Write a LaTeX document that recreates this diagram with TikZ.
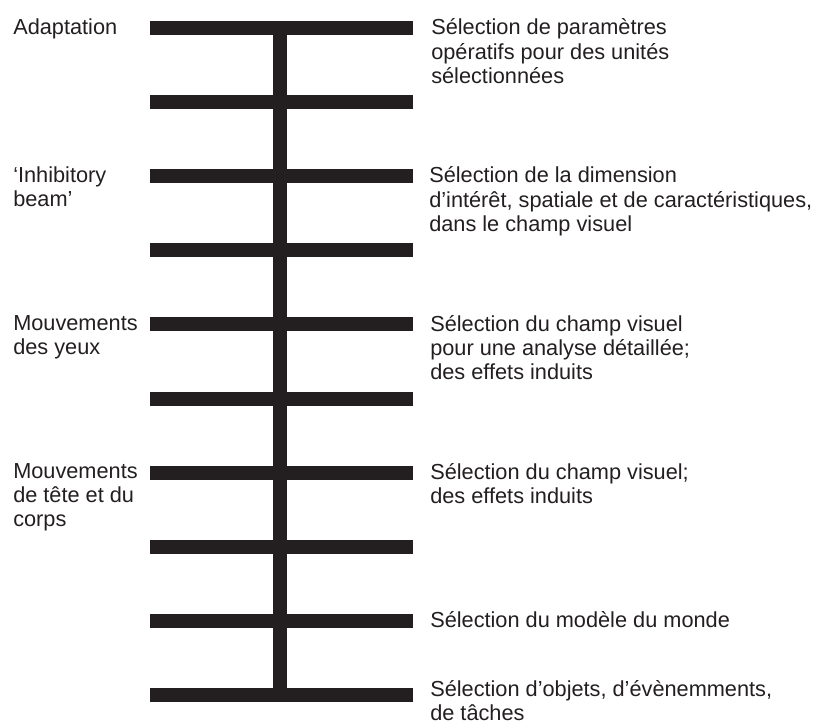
\documentclass[tikz,border=0pt]{standalone}
\usepackage{fontspec}
\setmainfont{Liberation Sans}
\definecolor{inkdark}{HTML}{231F20}
\tikzset{
  rung/.style={draw=inkdark, line width=10.5pt, line cap=butt},
  lbl/.style={anchor=north west, inner sep=0pt, align=left, text=inkdark,
    font=\fontsize{16.3}{18.2}\selectfont},
}
\begin{document}
\begin{tikzpicture}[x=0.75pt,y=0.75pt,yscale=-1,xscale=1]
\useasboundingbox (0,0) rectangle (821,722);

%Straight Lines: spine
\coordinate (spineTop) at (280,28);
\coordinate (spineBot) at (280,695);
\draw [rung] (spineTop) -- (spineBot) ;
%Straight Lines: rungs
\foreach \k in {0,...,9}{
  \coordinate (rungL\k) at (150,28+74.1*\k);
  \coordinate (rungR\k) at (413,28+74.1*\k);
  \draw [rung] (rungL\k) -- (rungR\k) ;
}

% Text Node
\node (lAdapt) [lbl] at (13,18.5) {Adaptation};
% Text Node
\node (lBeam) [lbl] at (13,166.7) {‘Inhibitory\\beam’};
% Text Node
\node (lYeux) [lbl] at (13,314.9) {Mouvements\\des yeux};
% Text Node
\node (lCorps) [lbl] at (13,463.1) {Mouvements\\de tête et du\\corps};

% Text Node
\node (rParam) [lbl] at (431,18.5) {Sélection de paramètres\\opératifs pour des unités\\sélectionnées};
% Text Node
\node (rDim) [lbl] at (429,166.7) {Sélection de la dimension\\d’intérêt, spatiale et de caractéristiques,\\dans le champ visuel};
% Text Node
\node (rAnalyse) [lbl] at (430,314.9) {Sélection du champ visuel\\pour une analyse détaillée;\\des effets induits};
% Text Node
\node (rEffets) [lbl] at (430,463.1) {Sélection du champ visuel;\\des effets induits};
% Text Node
\node (rMonde) [lbl] at (430,611.3) {Sélection du modèle du monde};
% Text Node
\node (rObjets) [lbl] at (430,680) {Sélection d’objets, d’évènemments,\\de tâches};

\end{tikzpicture}
\end{document}
